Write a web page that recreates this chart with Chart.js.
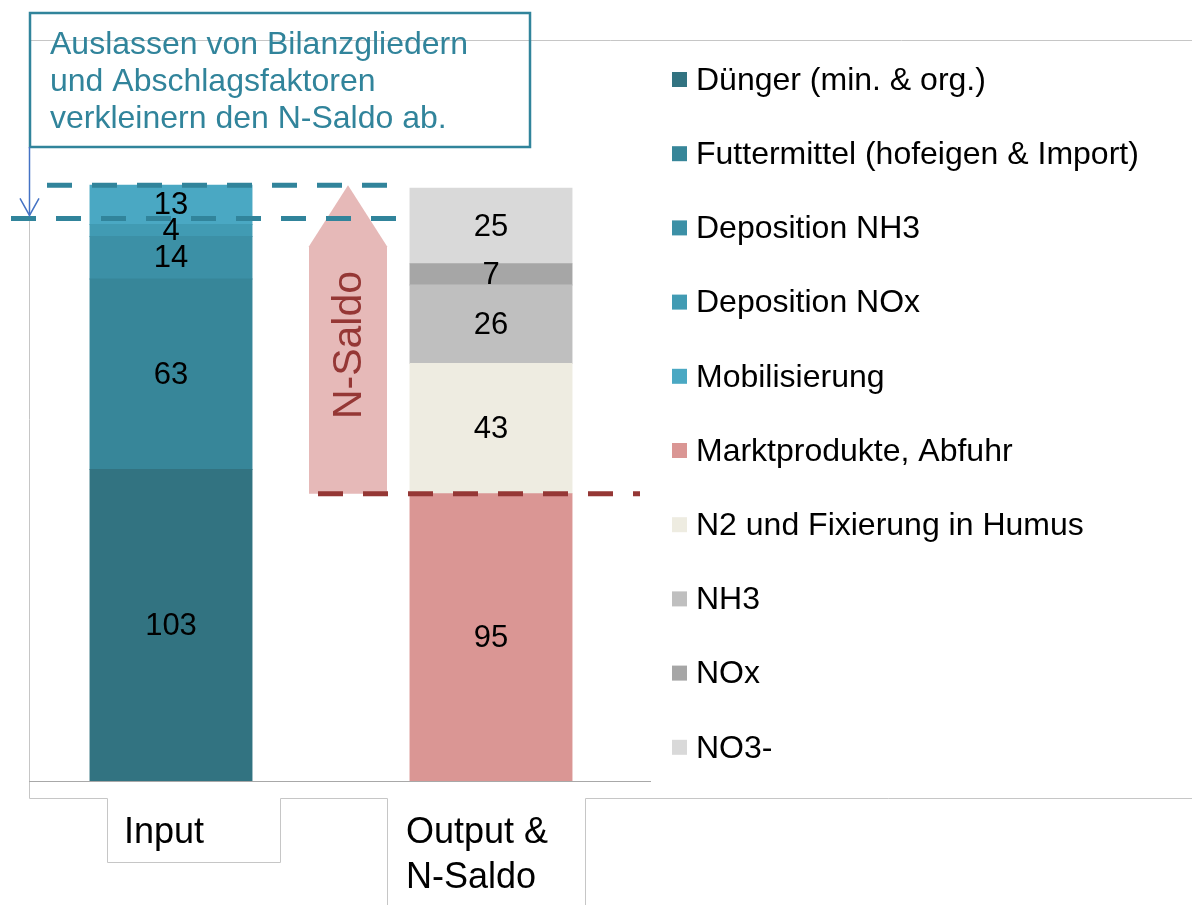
<!DOCTYPE html>
<html>
<head>
<meta charset="utf-8">
<script src="https://cdn.jsdelivr.net/npm/chart.js@4"></script>
<style>
    html, body { margin: 0; padding: 0; background: #fff; }
    canvas { display: block; }
</style>
</head>
<body>
<canvas id="grafica" width="1192" height="905"></canvas>
<script>
const kategorien = ["Input", ["Output &", "N-Saldo"]];

const reihenNamen = [
    "Dünger (min. & org.)",
    "Futtermittel (hofeigen & Import)",
    "Deposition NH3",
    "Deposition NOx",
    "Mobilisierung",
    "Marktprodukte, Abfuhr",
    "N2 und Fixierung in Humus",
    "NH3",
    "NOx",
    "NO3-"
];

const inputWerte = [103, 63, 14, 4, 13];
const outputWerte = [95, 43, 26, 7, 25];

const reihenFarben = [
    "#327381", "#378699", "#3c90a6", "#419bb3", "#4aa8c3",
    "#da9694", "#eeece1", "#bfbfbf", "#a6a6a6", "#d9d9d9"
];

// Hinweise im Bild
const hinweisText = ["Auslassen von Bilanzgliedern", "und Abschlagsfaktoren", "verkleinern den N-Saldo ab."];
const verkleinertWert = 186;   // untere gestrichelte Linie
const yMax = 245;

const FONT = '"Liberation Sans", Arial, sans-serif';
const TEAL = "#31849b";
const ROT = "#953735";

const datasets = reihenNamen.map((name, i) => ({
    label: name,
    data: i < 5 ? [inputWerte[i], null] : [null, outputWerte[i - 5]],
    backgroundColor: reihenFarben[i],
    borderWidth: 0,
    inflateAmount: 0.5,
    categoryPercentage: 1,
    barPercentage: 0.506
}));

function strich(ctx, x1, y1, x2, y2) {
    ctx.beginPath();
    ctx.moveTo(x1, y1);
    ctx.lineTo(x2, y2);
    ctx.stroke();
}

const rahmen = {
    id: "rahmen",
    beforeDatasetsDraw(chart) {
        const ctx = chart.ctx;
        const basis = Math.round(chart.scales.y.getPixelForValue(0)) + 0.5;
        ctx.save();
        ctx.strokeStyle = "#c6c6c6";
        ctx.lineWidth = 1;
        strich(ctx, 29.5, 40.5, 1192, 40.5);
        strich(ctx, 29.5, 40.5, 29.5, 798.5);
        strich(ctx, 29.5, 798.5, 107.5, 798.5);
        strich(ctx, 107.5, 798.5, 107.5, 862.5);
        strich(ctx, 107.5, 862.5, 280.5, 862.5);
        strich(ctx, 280.5, 798.5, 280.5, 862.5);
        strich(ctx, 280.5, 798.5, 387.5, 798.5);
        strich(ctx, 387.5, 798.5, 387.5, 905);
        strich(ctx, 585.5, 798.5, 585.5, 905);
        strich(ctx, 585.5, 798.5, 1192, 798.5);
        ctx.strokeStyle = "#a8a8a8";
        strich(ctx, 29, basis, 651, basis);
        ctx.restore();
    }
};

const beschriftung = {
    id: "beschriftung",
    afterDatasetsDraw(chart) {
        const ctx = chart.ctx;
        const y = chart.scales.y;
        const x = chart.scales.x;
        ctx.save();

        // Werte in den Balken
        ctx.fillStyle = "#000";
        ctx.font = "31px " + FONT;
        ctx.textAlign = "center";
        ctx.textBaseline = "middle";
        chart.data.datasets.forEach((ds, i) => {
            chart.getDatasetMeta(i).data.forEach((el, j) => {
                const v = ds.data[j];
                if (v === null) return;
                ctx.fillText(String(v), el.x, (el.y + el.base) / 2 + 1);
            });
        });

        // N-Saldo Pfeil
        const inputSumme = inputWerte.reduce((a, b) => a + b, 0);
        const spitze = y.getPixelForValue(inputSumme);
        const fuss = y.getPixelForValue(outputWerte[0]);
        const mitte = (x.getPixelForValue(0) + x.getPixelForValue(1)) / 2 + 17;
        ctx.fillStyle = "#e6b9b8";
        ctx.beginPath();
        ctx.moveTo(mitte, spitze);
        ctx.lineTo(mitte + 39, spitze + 61);
        ctx.lineTo(mitte + 39, fuss);
        ctx.lineTo(mitte - 39, fuss);
        ctx.lineTo(mitte - 39, spitze + 61);
        ctx.closePath();
        ctx.fill();

        ctx.save();
        ctx.translate(mitte + 2, 345);
        ctx.rotate(-Math.PI / 2);
        ctx.fillStyle = ROT;
        ctx.font = "41px " + FONT;
        ctx.textAlign = "center";
        ctx.textBaseline = "middle";
        ctx.fillText("N-Saldo", 0, 0);
        ctx.restore();

        // gestrichelte Linien
        ctx.lineWidth = 5;
        ctx.setLineDash([25, 20]);
        ctx.strokeStyle = TEAL;
        strich(ctx, 47, spitze, 390, spitze);
        const yKlein = y.getPixelForValue(verkleinertWert);
        strich(ctx, 11, yKlein, 397, yKlein);
        ctx.strokeStyle = ROT;
        strich(ctx, 318, fuss, 640, fuss);
        ctx.setLineDash([]);

        // Hinweisbox
        ctx.strokeStyle = TEAL;
        ctx.lineWidth = 2.5;
        ctx.strokeRect(30, 13, 500, 134);
        ctx.fillStyle = TEAL;
        ctx.font = "32px " + FONT;
        ctx.textAlign = "left";
        ctx.textBaseline = "alphabetic";
        hinweisText.forEach((t, i) => ctx.fillText(t, 50, 54 + i * 37));

        // dünner Pfeil nach unten
        ctx.strokeStyle = "#4472c4";
        ctx.lineWidth = 1.5;
        strich(ctx, 29.5, 147, 29.5, yKlein - 3);
        ctx.beginPath();
        ctx.moveTo(20, yKlein - 20);
        ctx.lineTo(29.5, yKlein - 3);
        ctx.lineTo(39, yKlein - 20);
        ctx.stroke();

        // Legende
        ctx.font = "32px " + FONT;
        ctx.textBaseline = "middle";
        reihenNamen.forEach((name, i) => {
            const ly = 80 + i * 74.2;
            ctx.fillStyle = reihenFarben[i];
            ctx.fillRect(672, ly - 8, 15, 15);
            ctx.fillStyle = "#000";
            ctx.fillText(name, 696, ly + 1);
        });

        // Kategorien
        ctx.font = "36px " + FONT;
        ctx.textBaseline = "alphabetic";
        const links = [124, 406];
        kategorien.forEach((k, i) => {
            const zeilen = Array.isArray(k) ? k : [k];
            zeilen.forEach((z, n) => ctx.fillText(z, links[i], 843 + n * 45));
        });

        ctx.restore();
    }
};

new Chart(document.getElementById("grafica"), {
    type: "bar",
    data: { labels: kategorien, datasets: datasets },
    options: {
        responsive: false,
        animation: false,
        layout: { padding: { left: 11, right: 541, top: 40, bottom: 124 } },
        plugins: {
            legend: { display: false },
            tooltip: { enabled: false }
        },
        scales: {
            x: { stacked: true, display: false },
            y: { stacked: true, display: false, min: 0, max: yMax }
        }
    },
    plugins: [rahmen, beschriftung]
});
</script>
</body>
</html>
